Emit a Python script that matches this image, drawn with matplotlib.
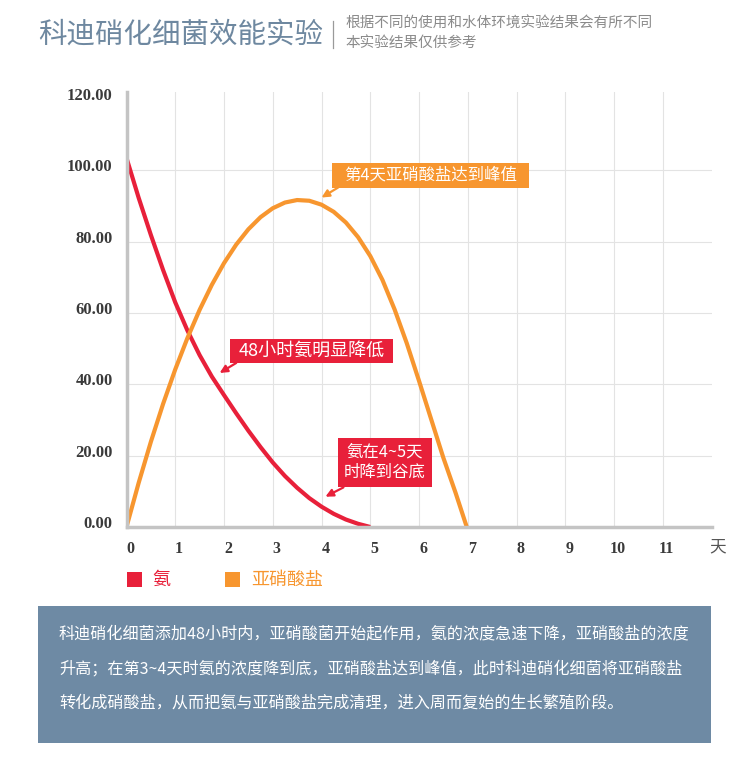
import numpy as np
import matplotlib
matplotlib.use('Agg')
import matplotlib.pyplot as plt
from matplotlib.patches import Rectangle
from matplotlib.lines import Line2D
from matplotlib.transforms import ScaledTranslation

plt.rcParams['font.family'] = ['Noto Sans CJK SC', 'DejaVu Sans']

# data
ammonia_days = [0, 0.25, 0.5, 0.75, 1, 1.25, 1.5, 1.75, 2, 2.25, 2.5,
                2.75, 3, 3.25, 3.5, 3.75, 4, 4.25, 4.5, 4.75, 5]
ammonia = [103.5, 92.3, 81.9, 72.1, 63.0, 55.1, 48.2, 42.2, 37.0, 31.9, 27.0,
           22.4, 18.1, 14.3, 11.0, 8.1, 5.7, 3.7, 2.1, 0.9, 0]

nitrite_days = [0, 0.25, 0.5, 0.75, 1, 1.25, 1.5, 1.75, 2, 2.25, 2.5,
                2.75, 3, 3.25, 3.5, 3.75, 4, 4.25, 4.5, 4.75, 5,
                5.25, 5.5, 5.75, 6, 6.25, 6.5, 6.75, 6.98]
nitrite = [0, 12.4, 23.9, 34.5, 44.2, 53.0, 60.9, 67.9, 74.0, 79.2, 83.5,
           86.9, 89.4, 91.0, 91.7, 91.5, 90.4, 88.4, 85.4, 81.3, 76.0,
           69.3, 61.0, 51.5, 41.0, 30.2, 19.4, 9.6, 0]

x_ticks = list(range(12))
y_ticks = [0, 20, 40, 60, 80, 100, 120]

title = '科迪硝化细菌效能实验'
subtitle = ['根据不同的使用和水体环境实验结果会有所不同', '本实验结果仅供参考']
series_names = ['氨', '亚硝酸盐']
note_lines = [
    '科迪硝化细菌添加48小时内，亚硝酸菌开始起作用，氨的浓度急速下降，亚硝酸盐的浓度',
    '升高；在第3~4天时氨的浓度降到底，亚硝酸盐达到峰值，此时科迪硝化细菌将亚硝酸盐',
    '转化成硝酸盐，从而把氨与亚硝酸盐完成清理，进入周而复始的生长繁殖阶段。',
]

RED = '#e8203a'
ORANGE = '#f7962f'
SLATE = '#6e8aa4'
W, H = 750, 762

fig = plt.figure(figsize=(7.5, 7.62), dpi=100)
ax = fig.add_axes([126.5 / W, 1 - 527 / H, 585 / W, 435 / H])

ax.plot(ammonia_days, ammonia, color=RED, lw=3.0, zorder=3, solid_capstyle='butt')
ax.plot(nitrite_days, nitrite, color=ORANGE, lw=3.0, zorder=3, solid_capstyle='butt')

ax.set_xlim(0, 12)
ax.set_ylim(0, 122)
ax.set_xticks(x_ticks)
ax.set_yticks(y_ticks)
ax.set_yticklabels([f'{v:.2f}' for v in y_ticks])
ax.tick_params(length=0, labelcolor='#3a3a3a', pad=10)
ax.tick_params(axis='x', labelsize=11.5)
ax.tick_params(axis='y', labelsize=12)
for lab in ax.get_xticklabels():
    lab.set_family('Liberation Serif')
    lab.set_fontweight('bold')
    lab.set_transform(lab.get_transform() + ScaledTranslation(0.04, 0, fig.dpi_scale_trans))
for lab in ax.get_yticklabels():
    lab.set_family('Liberation Serif')
    lab.set_fontweight('bold')
    lab.set_transform(lab.get_transform() + ScaledTranslation(0, 0.05, fig.dpi_scale_trans))

ax.grid(True, color='#e3e3e3', lw=0.8)
ax.xaxis.get_gridlines()[0].set_visible(False)
ax.yaxis.get_gridlines()[-1].set_visible(False)
ax.set_axisbelow(True)
for s in ['top', 'right']:
    ax.spines[s].set_visible(False)
for s in ['left', 'bottom']:
    ax.spines[s].set_color('#c4c4c4')
    ax.spines[s].set_linewidth(2.5)
    ax.spines[s].set_zorder(4)

fig.text(718 / W, 1 - 547 / H, '天', ha='center', va='center', fontsize=12, color='#555555')


# callout boxes with a small pointer
def callout(text, box, tip, color, size):
    x0, y0, x1, y1 = box
    ax.add_patch(Rectangle((x0, y0), x1 - x0, y1 - y0, fc=color, ec='none', zorder=5))
    ax.text((x0 + x1) / 2, (y0 + y1) / 2, text, color='white', fontsize=size,
            ha='center', va='center', zorder=6, linespacing=1.25)
    ax.annotate('', xy=tip, xytext=(x0 + 0.12, y0),
                arrowprops=dict(arrowstyle='-|>,head_length=0.45,head_width=0.22',
                                color=color, lw=1.6, shrinkA=0, shrinkB=0), zorder=5)


callout('第4天亚硝酸盐达到峰值', (4.22, 95.2, 8.25, 102.0), (4.0, 92.4), ORANGE, 11.8)
callout('48小时氨明显降低', (2.13, 46.0, 5.46, 52.6), (1.91, 43.2), RED, 13)
callout('氨在4~5天\n时降到谷底', (4.33, 11.1, 6.26, 25.1), (4.08, 8.5), RED, 11.8)

# legend
fig.patches.append(Rectangle((127 / W, 1 - 587 / H), 15 / W, 15 / H, fc=RED, ec='none',
                             transform=fig.transFigure))
fig.text(152 / W, 1 - 580 / H, series_names[0], color=RED, fontsize=13, va='center')
fig.patches.append(Rectangle((225 / W, 1 - 587 / H), 15 / W, 15 / H, fc=ORANGE, ec='none',
                             transform=fig.transFigure))
fig.text(251 / W, 1 - 580 / H, series_names[1], color=ORANGE, fontsize=13, va='center')

# header
fig.text(38 / W, 1 - 35 / H, title, fontsize=20.5, color='#6e88a0', va='center', fontweight='light')
fig.add_artist(Line2D([333 / W, 333 / W], [1 - 21 / H, 1 - 48 / H], color='#9a9a9a', lw=0.9,
                      transform=fig.transFigure))
fig.text(345 / W, 1 - 24 / H, subtitle[0], fontsize=10.5, color='#8a8a8a', va='center')
fig.text(345 / W, 1 - 43 / H, subtitle[1], fontsize=10.5, color='#8a8a8a', va='center')

# note box
fig.patches.append(Rectangle((38 / W, 1 - 743 / H), 673 / W, 137 / H, fc=SLATE, ec='none',
                             transform=fig.transFigure))
for i, line in enumerate(note_lines):
    fig.text(59 / W, 1 - (634 + 34.5 * i) / H, line, fontsize=11.6, color='white', va='center')

fig.savefig('out.png', dpi=100)
